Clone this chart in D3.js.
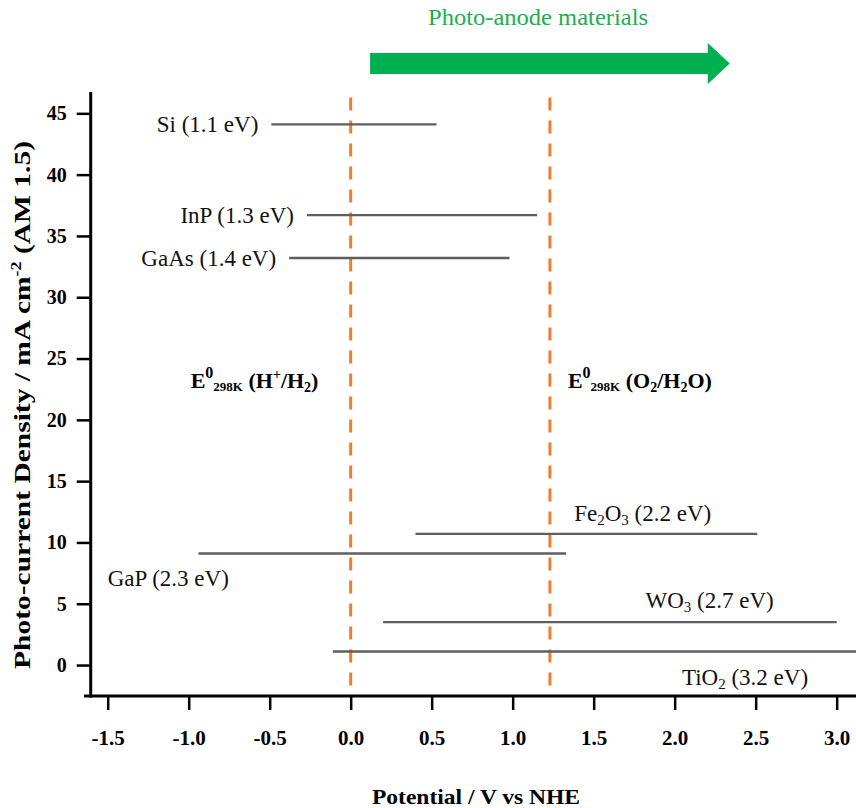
<!DOCTYPE html>
<html>
<head>
<meta charset="utf-8">
<script src="https://cdn.jsdelivr.net/npm/d3@7"></script>
<style>
  html, body { margin: 0; padding: 0; background: #fff; }
  svg { display: block; font-family: "Liberation Serif", "Times New Roman", serif; }
</style>
</head>
<body>
<svg id="chart" width="856" height="808"></svg>
<script>
// semiconductor band edges vs NHE, with the photocurrent each one can give
const materials = ['Si', 'InP', 'GaAs', 'Fe2O3', 'GaP', 'WO3', 'TiO2']
const bandGaps = [1.1, 1.3, 1.4, 2.2, 2.3, 2.7, 3.2]
const photocurrent = [44.1, 36.7, 33.2, 10.7, 9.1, 3.5, 1.1]
const bandStart = [-0.49, -0.27, -0.38, 0.40, -0.94, 0.20, -0.11]
const bandEnd = [0.53, 1.15, 0.98, 2.51, 1.33, 3.0, 3.2]

// water splitting redox potentials (H+/H2 and O2/H2O)
const redoxPotentials = [0, 1.23]
const anodeArrow = [0.12, 2.34]

const xTicks = [-1.5, -1.0, -0.5, 0.0, 0.5, 1.0, 1.5, 2.0, 2.5, 3.0]
const yTicks = [0, 5, 10, 15, 20, 25, 30, 35, 40, 45]

const svg = d3.select('#chart')

const x = d3.scaleLinear().domain([-1.6, 3.12]).range([91.5, 856.1])
const y = d3.scaleLinear().domain([-2.5, 46.7]).range([695.7, 92.5])

const axisX = 90.7
const axisY = 696

// label placement: left of the bar, or at a potential with an offset above/below
const labelLayout = {
  Si: { anchor: 'end', dx: -13, dy: 0 },
  InP: { anchor: 'end', dx: -13, dy: 0 },
  GaAs: { anchor: 'end', dx: -13, dy: 0 },
  Fe2O3: { at: 1.38, dy: -21 },
  GaP: { at: -1.5, dy: 25 },
  WO3: { at: 1.82, dy: -22 },
  TiO2: { at: 2.045, dy: 25 },
}

// write a list of parts into a text node, with sub/superscripts
function richText(text, parts) {
  let offset = 0
  parts.forEach((p) => {
    const target = p.shift || 0
    text
      .append('tspan')
      .attr('dy', target - offset)
      .attr('font-size', p.size)
      .text(p.t)
    offset = target
  })
}

// redox dashed lines
svg
  .append('g')
  .selectAll('line')
  .data(redoxPotentials)
  .join('line')
  .attr('x1', (d) => x(d))
  .attr('x2', (d) => x(d))
  .attr('y1', y(46.3))
  .attr('y2', axisY - 2)
  .attr('stroke', '#ed7d31')
  .attr('stroke-width', 3)
  .attr('stroke-dasharray', '13,10')

// band bars
const rows = materials.map((m, i) => ({
  name: m,
  gap: bandGaps[i],
  j: photocurrent[i],
  x0: bandStart[i],
  x1: bandEnd[i],
}))

svg
  .append('g')
  .selectAll('line')
  .data(rows)
  .join('line')
  .attr('x1', (d) => x(d.x0))
  .attr('x2', (d) => x(d.x1))
  .attr('y1', (d) => y(d.j))
  .attr('y2', (d) => y(d.j))
  .attr('stroke', '#5e5e5e')
  .attr('stroke-width', 2.4)

const labels = svg
  .append('g')
  .attr('font-size', 23)
  .attr('fill', '#111')
  .selectAll('text')
  .data(rows)
  .join('text')
  .attr('text-anchor', (d) => labelLayout[d.name].anchor || 'start')
  .attr('x', (d) => {
    const l = labelLayout[d.name]
    return l.at !== undefined ? x(l.at) : x(d.x0) + l.dx
  })
  .attr('y', (d) => y(d.j) + labelLayout[d.name].dy + 8)

labels.each(function (d) {
  const parts = d.name
    .split(/(\d+)/)
    .filter((s) => s.length)
    .map((s) => (/\d/.test(s) ? { t: s, size: 15, shift: 4 } : { t: s }))
  parts.push({ t: ` (${d.gap.toFixed(1)} eV)` })
  richText(d3.select(this), parts)
})

// redox labels
const redoxLabels = [
  [
    { t: 'E' },
    { t: '0', size: 16, shift: -10 },
    { t: '298K', size: 13, shift: 3 },
    { t: ' (H' },
    { t: '+', size: 14, shift: -9 },
    { t: '/H' },
    { t: '2', size: 14, shift: 4 },
    { t: ')' },
  ],
  [
    { t: 'E' },
    { t: '0', size: 16, shift: -10 },
    { t: '298K', size: 13, shift: 3 },
    { t: ' (O' },
    { t: '2', size: 14, shift: 4 },
    { t: '/H' },
    { t: '2', size: 14, shift: 4 },
    { t: 'O)' },
  ],
]
const redoxLabelAt = [-0.988, 1.341]

redoxLabels.forEach((parts, i) => {
  const t = svg
    .append('text')
    .attr('x', x(redoxLabelAt[i]))
    .attr('y', y(23.1) + 6)
    .attr('font-size', 22)
    .attr('font-weight', 'bold')
    .attr('fill', '#000')
  richText(t, parts)
})

// photo-anode arrow
const ax0 = x(anodeArrow[0])
const ax1 = x(anodeArrow[1])
const ay = 63.5
svg
  .append('polygon')
  .attr(
    'points',
    [
      [ax0, ay - 10.5],
      [ax1 - 22, ay - 10.5],
      [ax1 - 22, ay - 20.5],
      [ax1, ay],
      [ax1 - 22, ay + 20.5],
      [ax1 - 22, ay + 10.5],
      [ax0, ay + 10.5],
    ].join(' ')
  )
  .attr('fill', '#00b050')

svg
  .append('text')
  .attr('x', 538)
  .attr('y', 25)
  .attr('text-anchor', 'middle')
  .attr('font-size', 24)
  .attr('fill', '#19b04f')
  .attr('textLength', 220)
  .attr('lengthAdjust', 'spacingAndGlyphs')
  .text('Photo-anode materials')

// axes
const gy = svg
  .append('g')
  .attr('transform', `translate(${axisX},0)`)
  .call(
    d3
      .axisLeft(y)
      .tickValues(yTicks)
      .tickSize(14)
      .tickPadding(10)
      .tickFormat(d3.format('d'))
  )
const gx = svg
  .append('g')
  .attr('transform', `translate(0,${axisY})`)
  .call(
    d3
      .axisBottom(x)
      .tickValues(xTicks)
      .tickSize(14)
      .tickPadding(20)
      .tickFormat((d) => d.toFixed(1))
  )

;[gx, gy].forEach((g) => {
  g.attr('font-family', null).attr('font-size', null)
  g.select('.domain').remove()
  g.selectAll('.tick line').attr('stroke', '#000').attr('stroke-width', 2.5)
  g.selectAll('.tick text')
    .attr('fill', '#000')
    .attr('font-size', 20)
    .attr('font-weight', 'bold')
})
gx.selectAll('.tick text').attr('font-size', 21)

svg
  .append('line')
  .attr('x1', axisX)
  .attr('x2', axisX)
  .attr('y1', 92)
  .attr('y2', axisY + 1.5)
  .attr('stroke', '#000')
  .attr('stroke-width', 3)
svg
  .append('line')
  .attr('x1', 84)
  .attr('x2', 856)
  .attr('y1', axisY)
  .attr('y2', axisY)
  .attr('stroke', '#000')
  .attr('stroke-width', 3)

// axis titles
svg
  .append('text')
  .attr('x', 476)
  .attr('y', 804)
  .attr('text-anchor', 'middle')
  .attr('font-size', 21)
  .attr('font-weight', 'bold')
  .attr('textLength', 208)
  .attr('lengthAdjust', 'spacingAndGlyphs')
  .text('Potential / V vs NHE')

const yTitle = svg
  .append('text')
  .attr('transform', 'translate(30,405) rotate(-90)')
  .attr('text-anchor', 'middle')
  .attr('font-size', 23)
  .attr('font-weight', 'bold')
  .attr('textLength', 528)
  .attr('lengthAdjust', 'spacingAndGlyphs')
richText(yTitle, [
  { t: 'Photo-current Density / mA cm' },
  { t: '-2', size: 14, shift: -9 },
  { t: ' (AM 1.5)' },
])
</script>
</body>
</html>
